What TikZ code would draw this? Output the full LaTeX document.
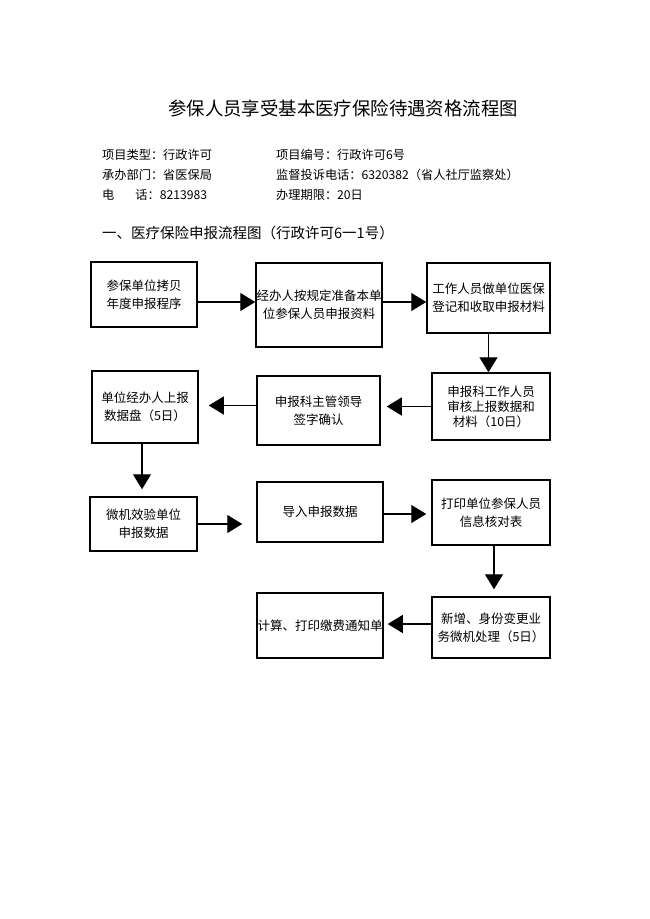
\documentclass[tikz,border=0pt]{standalone}
\usepackage{fontspec}
\newfontfamily\cjk{Noto Sans CJK SC}
\usetikzlibrary{arrows.meta}
\tikzstyle{BoxFlow}=[draw,line width=1.5pt,inner sep=0pt,align=center,
font=\cjk\fontsize{12.5}{18}\selectfont]
\tikzstyle{EdgeFlow}=[line width=1.3pt,-{Triangle[length=15pt,width=18pt]}]
\tikzstyle{InfoText}=[anchor=west,inner sep=0pt,font=\cjk\fontsize{12.2}{15}\selectfont]

\begin{document}
\begin{tikzpicture}[x=1pt,y=-1pt]
        \useasboundingbox[fill=white](0,0)rectangle(650,919);
        \node[inner sep=0pt,font=\cjk\fontsize{18.4}{21}\selectfont](t)at(343,108){参保人员享受基本医疗保险待遇资格流程图};
        \node[InfoText](i1)at(102,155){项目类型：行政许可};
        \node[InfoText](i2)at(276,155){项目编号：行政许可6号};
        \node[InfoText](i3)at(102,175){承办部门：省医保局};
        \node[InfoText](i4)at(276,175){监督投诉电话：6320382（省人社厅监察处）};
        \node[InfoText](i5)at(102,195){电\hspace{21pt}话：8213983};
        \node[InfoText](i6)at(276,195){办理期限：20日};
        \node[InfoText,font=\cjk\fontsize{14.5}{16}\selectfont](s)at(102,233){一、医疗保险申报流程图（行政许可6一1号）};
        \node[BoxFlow,minimum width=106pt,minimum height=65pt](a)at(144,294.5){参保单位拷贝\\年度申报程序};
        \node[BoxFlow,minimum width=126pt,minimum height=84pt](b)at(319,305){经办人按规定准备本单\\位参保人员申报资料};
        \node[BoxFlow,minimum width=123pt,minimum height=70pt](c)at(488.5,298){工作人员做单位医保\\登记和收取申报材料};
        \node[BoxFlow,minimum width=118pt,minimum height=67pt,
          font=\cjk\fontsize{12.5}{15}\selectfont](d)at(491,406.5){申报科工作人员\\审核上报数据和\\材料（10日）};
        \node[BoxFlow,minimum width=123pt,minimum height=69pt](e)at(318.5,410.5){申报科主管领导\\签字确认};
        \node[BoxFlow,minimum width=106pt,minimum height=72pt](f)at(145,407){单位经办人上报\\数据盘（5日）};
        \node[BoxFlow,minimum width=107pt,minimum height=54pt](g)at(143.5,524){微机效验单位\\申报数据};
        \node[BoxFlow,minimum width=126pt,minimum height=60pt](h)at(320,512){导入申报数据};
        \node[BoxFlow,minimum width=118pt,minimum height=65pt](i)at(491,512.5){打印单位参保人员\\信息核对表};
        \node[BoxFlow,minimum width=118pt,minimum height=61pt](j)at(491,627.5){新增、身份变更业\\务微机处理（5日）};
        \node[BoxFlow,minimum width=126pt,minimum height=65pt](k)at(320,625.5){计算、打印缴费通知单};
        \draw[EdgeFlow]([yshift=-7.5pt]a.east)--([yshift=-7.5pt]a.east-|b.west);
        \draw[EdgeFlow]([yshift=3pt]b.east)--([yshift=3pt]b.east-|c.west);
        \draw[EdgeFlow](c.south)--(c.south|-d.north);
        \draw[EdgeFlow,shorten >=6pt](d.west)--(d.west-|e.east);
        \draw[EdgeFlow,shorten >=10pt]([yshift=5pt]e.west)--([yshift=5pt]e.west-|f.east);
        \draw[EdgeFlow,shorten >=7pt]([xshift=-3pt]f.south)--([xshift=-3pt]f.south|-g.north);
        \draw[EdgeFlow,shorten >=14pt](g.east)--(g.east-|h.west);
        \draw[EdgeFlow,shorten >=5pt]([yshift=-2pt]h.east)--([yshift=-2pt]h.east-|i.west);
        \draw[EdgeFlow,shorten >=7pt]([xshift=3pt]i.south)--([xshift=3pt]i.south|-j.north);
        \draw[EdgeFlow,shorten >=4pt]([yshift=3.5pt]j.west)--([yshift=3.5pt]j.west-|k.east);
    \end{tikzpicture}
\end{document}
